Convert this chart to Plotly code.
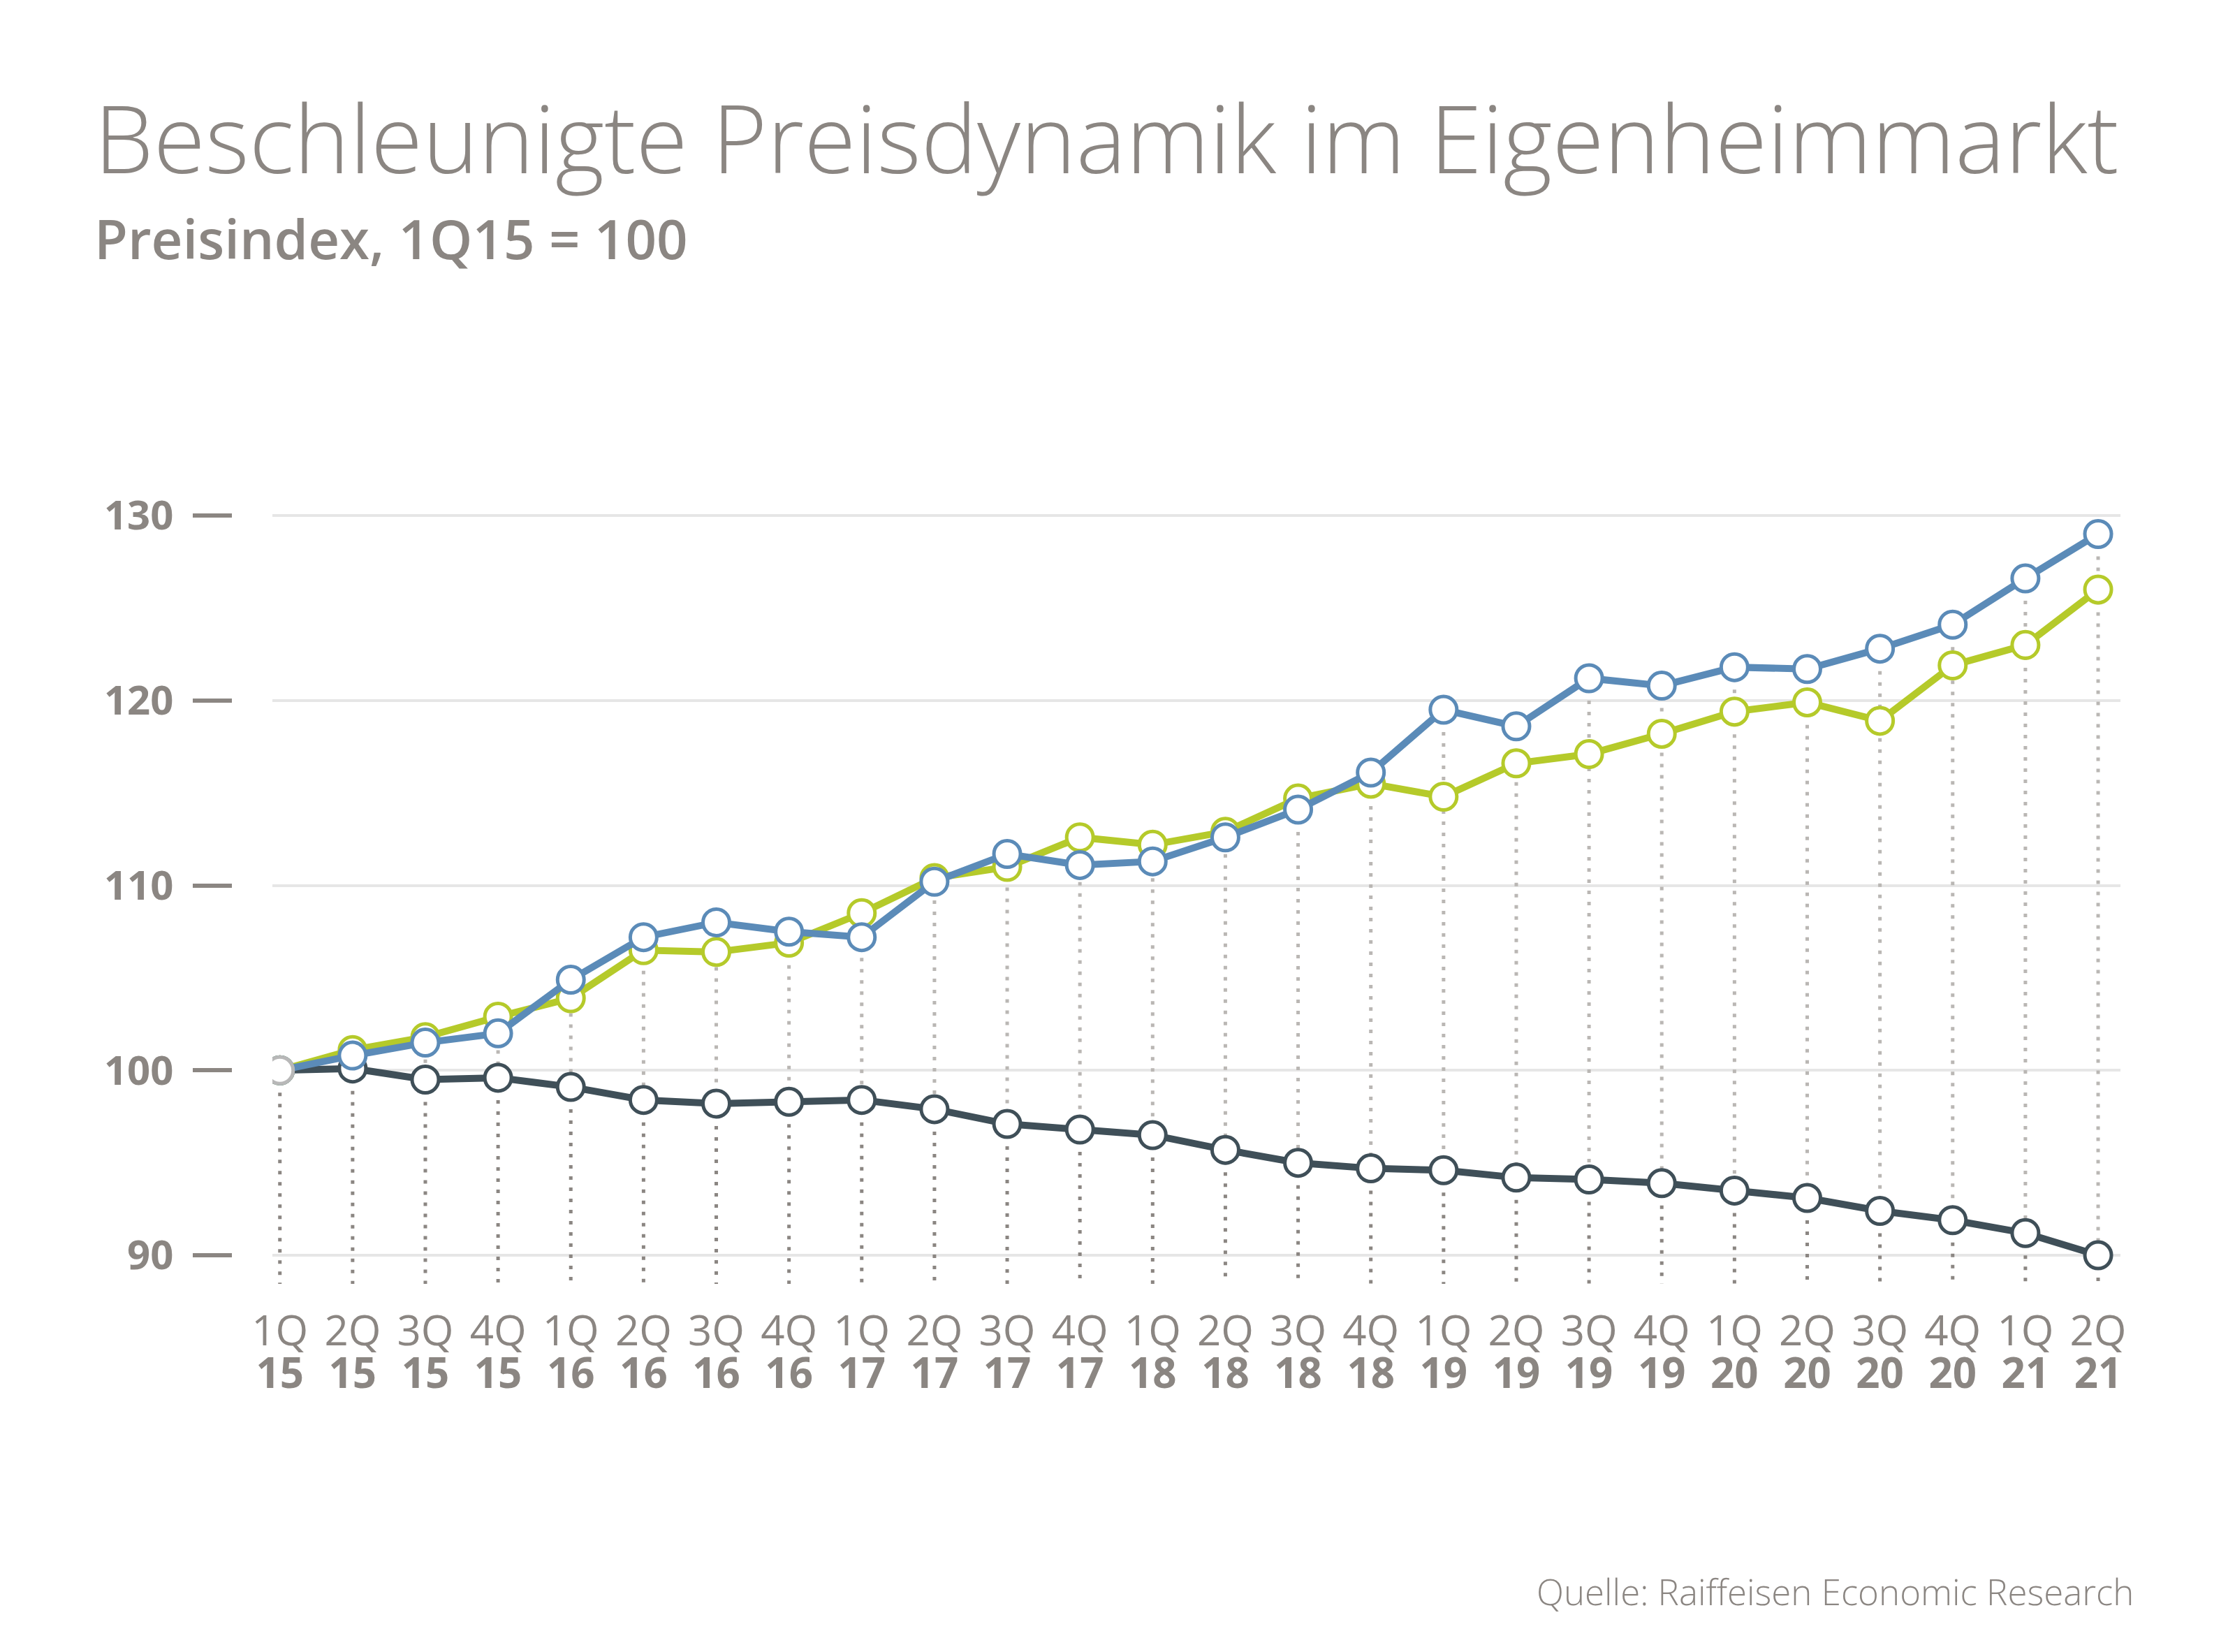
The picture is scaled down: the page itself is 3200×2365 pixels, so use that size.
import plotly.graph_objects as go

quarters = ["1Q", "2Q", "3Q", "4Q"] * 6 + ["1Q", "2Q"]
years = ["15"] * 4 + ["16"] * 4 + ["17"] * 4 + ["18"] * 4 + ["19"] * 4 + ["20"] * 4 + ["21"] * 2

blue = [100.0, 100.8, 101.5, 102.0, 104.9, 107.2, 108.0, 107.5, 107.2, 110.2, 111.7, 111.1,
        111.3, 112.6, 114.1, 116.1, 119.5, 118.6, 121.2, 120.8, 121.8, 121.7, 122.8, 124.1,
        126.6, 129.0]
green = [100.0, 101.1, 101.8, 102.9, 103.9, 106.5, 106.4, 106.9, 108.5, 110.4, 111.0, 112.6,
         112.2, 112.9, 114.7, 115.5, 114.8, 116.6, 117.1, 118.2, 119.4, 119.9, 118.9, 121.9,
         123.0, 126.0]
dark = [100.0, 100.1, 99.5, 99.6, 99.1, 98.4, 98.2, 98.3, 98.4, 97.9, 97.1, 96.8,
        96.5, 95.7, 95.0, 94.7, 94.6, 94.2, 94.1, 93.9, 93.5, 93.1, 92.4, 91.9,
        91.2, 90.0]

y_ticks = [90, 100, 110, 120, 130]
dot_bottom = 88.45

GREY_TXT = "#8b8682"
BLUE = "#5b8bb8"
GREEN = "#b5ca2a"
DARK = "#3f4f58"
FONT = "Open Sans"

W, H = 3200, 2365
OFF = 8  # page body margin compensation
x = list(range(len(quarters)))


def px(v):
    return (v - OFF) / W


def py(v):
    return 1 - (v - OFF) / H


fig = go.Figure()

# dotted verticals: light part (top series -> dark series), darker part (dark series -> bottom)
lx, ly, dx, dy = [], [], [], []
for i in x:
    top = max(blue[i], green[i])
    lx += [i, i, None]
    ly += [top, dark[i], None]
    dx += [i, i, None]
    dy += [dark[i], dot_bottom, None]
fig.add_trace(go.Scatter(x=lx, y=ly, mode="lines", hoverinfo="skip", showlegend=False,
                         line=dict(color="#bab7b4", width=5, dash="5px,11px")))
fig.add_trace(go.Scatter(x=dx, y=dy, mode="lines", hoverinfo="skip", showlegend=False,
                         line=dict(color="#8b8682", width=5, dash="5px,11px")))

for vals, col, name in [(dark, DARK, "Dunkel"), (green, GREEN, "Grün"), (blue, BLUE, "Blau")]:
    fig.add_trace(go.Scatter(
        x=x, y=vals, mode="lines+markers", name=name, showlegend=False,
        line=dict(color=col, width=10),
        marker=dict(size=38, color="white", line=dict(color=col, width=5)),
    ))

# first point (common base) in light grey
fig.add_trace(go.Scatter(x=[x[0]], y=[blue[0]], mode="markers", showlegend=False,
                         marker=dict(size=38, color="white", line=dict(color="#b8b8b8", width=5))))

# second x axis for year labels
fig.add_trace(go.Scatter(x=x, y=[None] * len(x), xaxis="x2", showlegend=False, hoverinfo="skip"))

xd = [px(390), px(3036)]
xr = [-0.103, 25.307]
fig.update_layout(
    width=W, height=H,
    margin=dict(l=0, r=0, t=0, b=0),
    paper_bgcolor="white", plot_bgcolor="white",
    font=dict(family=FONT, color=GREY_TXT),
    xaxis=dict(domain=xd, range=xr, tickmode="array", tickvals=x, ticktext=quarters,
               showgrid=False, zeroline=False, showline=False, ticks="",
               tickfont=dict(family=FONT, size=60, color=GREY_TXT), ticklabelstandoff=15,
               automargin=False),
    xaxis2=dict(domain=xd, range=xr, overlaying="x", anchor="y", side="bottom",
                tickmode="array", tickvals=x, ticktext=years,
                showgrid=False, zeroline=False, showline=False, ticks="",
                tickfont=dict(family=FONT, size=60, color=GREY_TXT, weight="bold"),
                ticklabelstandoff=76, automargin=False),
    yaxis=dict(domain=[py(1850), py(724.8)], range=[88, 130.5], anchor="free",
               position=px(332), tickmode="array", tickvals=y_ticks,
               ticktext=[str(v) for v in y_ticks],
               showgrid=True, gridcolor="#e6e6e6", gridwidth=4, zeroline=False, showline=False,
               ticks="outside", ticklen=56, tickwidth=6, tickcolor=GREY_TXT,
               ticklabelstandoff=16,
               tickfont=dict(family=FONT, size=58, color=GREY_TXT, weight="bold"),
               automargin=False),
    annotations=[
        dict(text="Beschleunigte Preisdynamik im Eigenheimmarkt", x=px(133), y=py(196),
             xref="paper", yref="paper", xanchor="left", yanchor="middle", showarrow=False,
             font=dict(family=FONT, size=135, color=GREY_TXT, weight=300)),
        dict(text="Preisindex, 1Q15 = 100", x=px(133), y=py(341),
             xref="paper", yref="paper", xanchor="left", yanchor="middle", showarrow=False,
             font=dict(family=FONT, size=78, color=GREY_TXT, weight=600)),
        dict(text="Quelle: Raiffeisen Economic Research", x=px(3057), y=py(2278),
             xref="paper", yref="paper", xanchor="right", yanchor="middle", showarrow=False,
             font=dict(family=FONT, size=51, color=GREY_TXT, weight=300)),
    ],
)

fig.write_html("out.html")
